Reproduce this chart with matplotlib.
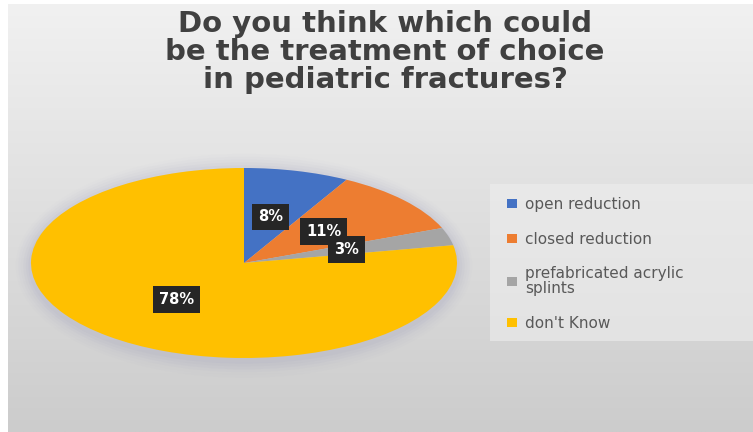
import numpy as np
import matplotlib
matplotlib.use("Agg")
import matplotlib.pyplot as plt
from matplotlib.patches import Ellipse, Rectangle, Patch

# ---- data ----
title = "Do you think which could\nbe the treatment of choice\nin pediatric fractures?"
categories = ["open reduction", "closed reduction",
              "prefabricated acrylic\nsplints", "don't Know"]
values = [8, 11, 3, 78]
colors = ["#4472C4", "#ED7D31", "#A5A5A5", "#FFC000"]

W, H = 753, 432
fig = plt.figure(figsize=(W / 100, H / 100), dpi=100)
fig.patch.set_facecolor("white")

# background gradient (white border left/top)
bg = fig.add_axes([8 / W, 0, 1 - 8 / W, 1 - 4 / H])
bg.set_axis_off()
grad = np.linspace(0, 1, 256).reshape(-1, 1)
top = np.array([0.945, 0.945, 0.945])
bot = np.array([0.80, 0.80, 0.80])
img = top[None, None, :] * (1 - grad[:, :, None]) + bot[None, None, :] * grad[:, :, None]
img = np.repeat(img, 4, axis=1)
bg.imshow(img, aspect="auto", extent=[0, 1, 0, 1], origin="upper")
bg.set_xlim(0, 1)
bg.set_ylim(0, 1)
# lighter legend panel
bg.add_patch(Rectangle(((490 - 8) / (W - 8), 1 - 337 / (H - 4)),
                       (W - 490) / (W - 8), (337 - 180) / (H - 4),
                       transform=bg.transAxes, facecolor="#eeeeee",
                       edgecolor="none", alpha=0.6))

# title
fig.text(385 / W, 1 - 52 / H, title, ha="center", va="center",
         fontsize=21, fontweight="bold", color="#404040",
         linespacing=1.0, family="DejaVu Sans")

# pie axes (elliptic)
cx, cy, rx, ry = 244, 263, 213, 95
ax = fig.add_axes([(cx - rx) / W, (H - cy - ry) / H, 2 * rx / W, 2 * ry / H])
ax.set_facecolor("none")

# soft shadow
for i, a in enumerate(np.linspace(0.07, 0.015, 6)):
    sx = 1.0 + 0.012 * (i + 1)
    sy = 1.0 + 0.03 * (i + 1)
    ax.add_patch(Ellipse((0.0, -0.03), 2 * sx, 2 * sy,
                         facecolor="#9090b8", edgecolor="none", alpha=a,
                         zorder=0, clip_on=False))

wedges, texts, autotexts = ax.pie(
    values, colors=colors, startangle=90, counterclock=False, radius=1,
    autopct=lambda p: f"{p:.0f}%", pctdistance=0.5,
    wedgeprops=dict(linewidth=0),
    textprops=dict(color="white", fontsize=10.5, fontweight="bold"))
for w in wedges:
    w.set_clip_on(False)
for t in autotexts:
    t.set_bbox(dict(boxstyle="square,pad=0.4", facecolor="#262626",
                    edgecolor="none"))
    t.set_zorder(5)
ax.set_aspect("auto")
ax.set_xlim(-1, 1)
ax.set_ylim(-1, 1)
ax.set_axis_off()

# legend
handles = [Patch(facecolor=c, edgecolor="none") for c in colors]
leg = fig.legend(handles, categories, loc="upper left",
                 bbox_to_anchor=(493 / W, 1 - 183 / H), frameon=False,
                 fontsize=11, labelcolor="#595959", handlelength=0.7,
                 handleheight=0.5, handletextpad=0.5, labelspacing=1.3)
for t in leg.get_texts():
    t.set_linespacing(0.95)

fig.savefig("out.png", dpi=100)
